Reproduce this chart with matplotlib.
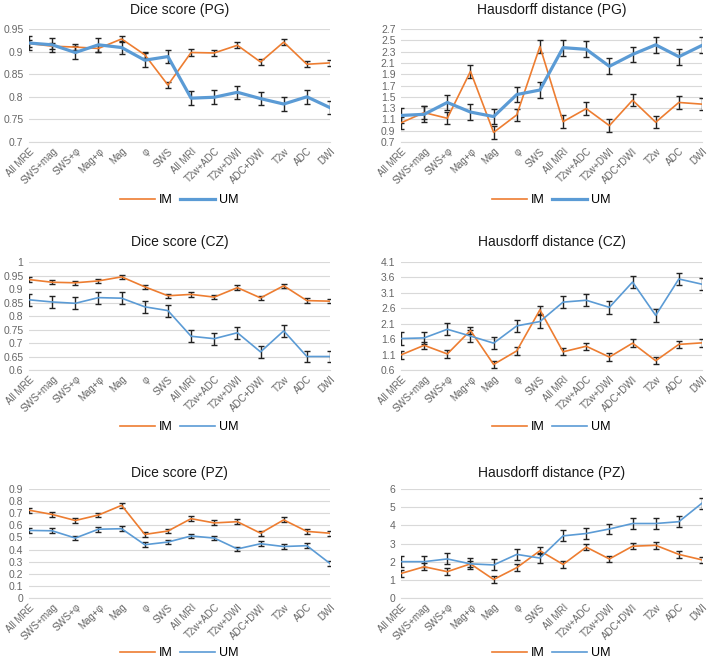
import matplotlib
matplotlib.use("Agg")
import matplotlib.pyplot as plt
from matplotlib.lines import Line2D
import numpy as np

plt.rcParams["font.family"] = ["Liberation Sans", "DejaVu Sans"]

categories = ["All MRE", "SWS+mag", "SWS+φ", "Mag+φ", "Mag", "φ", "SWS",
              "All MRI", "T2w+ADC", "T2w+DWI", "ADC+DWI", "T2w", "ADC", "DWI"]

# Dice score (PG)
dice_pg_im = [0.918, 0.912, 0.910, 0.907, 0.928, 0.893, 0.826, 0.898, 0.897, 0.914, 0.877, 0.921, 0.872, 0.875]
dice_pg_im_err = [0.007] * 14
dice_pg_um = [0.919, 0.915, 0.898, 0.915, 0.909, 0.881, 0.889, 0.797, 0.799, 0.810, 0.796, 0.784, 0.800, 0.776]
dice_pg_um_err = [0.015] * 14

# Hausdorff distance (PG)
hd_pg_im = [1.04, 1.22, 1.12, 1.95, 0.87, 1.18, 2.39, 1.06, 1.29, 0.99, 1.44, 1.05, 1.40, 1.37]
hd_pg_im_err = [0.11] * 14
hd_pg_um = [1.17, 1.19, 1.40, 1.23, 1.15, 1.54, 1.62, 2.37, 2.34, 2.04, 2.25, 2.42, 2.21, 2.41]
hd_pg_um_err = [0.14] * 14

# Dice score (CZ)
dice_cz_im = [0.935, 0.925, 0.923, 0.930, 0.945, 0.908, 0.875, 0.880, 0.870, 0.905, 0.867, 0.912, 0.857, 0.855]
dice_cz_im_err = [0.008] * 14
dice_cz_um = [0.860, 0.852, 0.847, 0.868, 0.866, 0.834, 0.820, 0.725, 0.716, 0.738, 0.667, 0.745, 0.650, 0.650]
dice_cz_um_err = [0.022] * 14

# Hausdorff distance (CZ)
hd_cz_im = [1.09, 1.40, 1.12, 1.88, 0.78, 1.22, 2.55, 1.19, 1.37, 1.02, 1.47, 0.90, 1.43, 1.48]
hd_cz_im_err = [0.12] * 14
hd_cz_um = [1.62, 1.64, 1.92, 1.70, 1.47, 2.03, 2.17, 2.80, 2.86, 2.63, 3.45, 2.37, 3.55, 3.38]
hd_cz_um_err = [0.2] * 14

# Dice score (PZ)
dice_pz_im = [0.725, 0.690, 0.640, 0.685, 0.765, 0.525, 0.553, 0.655, 0.620, 0.630, 0.535, 0.645, 0.550, 0.535]
dice_pz_im_err = [0.02] * 14
dice_pz_um = [0.558, 0.555, 0.495, 0.568, 0.572, 0.440, 0.462, 0.512, 0.495, 0.405, 0.448, 0.425, 0.432, 0.285]
dice_pz_um_err = [0.02] * 14

# Hausdorff distance (PZ)
hd_pz_im = [1.35, 1.72, 1.45, 1.88, 1.02, 1.67, 2.60, 1.85, 2.80, 2.15, 2.85, 2.90, 2.40, 2.10]
hd_pz_im_err = [0.18] * 14
hd_pz_um = [2.00, 2.00, 2.15, 1.88, 1.82, 2.40, 2.20, 3.42, 3.55, 3.80, 4.10, 4.10, 4.20, 5.22]
hd_pz_um_err = [0.3] * 14

ORANGE = "#ED7D31"
BLUE = "#5B9BD5"
GRAY = "#666666"

W, H = 708, 662
fig = plt.figure(figsize=(W / 100, H / 100), dpi=100)


def px_axes(x0, x1, y0, y1):
    return fig.add_axes([x0 / W, 1 - y1 / H, (x1 - x0) / W, (y1 - y0) / H])


paneles = [
    # title, im, im_err, um, um_err, ylim, step, fmt, x0, x1, y0, y1, title_y, legend_y, um_lw
    ("Dice score (PG)", dice_pg_im, dice_pg_im_err, dice_pg_um, dice_pg_um_err,
     (0.7, 0.95), 0.05, "{:g}", 29, 330, 29, 142, 10, 200, 2.3),
    ("Hausdorff distance (PG)", hd_pg_im, hd_pg_im_err, hd_pg_um, hd_pg_um_err,
     (0.7, 2.7), 0.2, "{:.1f}", 401, 702, 29, 142, 10, 200, 2.3),
    ("Dice score (CZ)", dice_cz_im, dice_cz_im_err, dice_cz_um, dice_cz_um_err,
     (0.6, 1.0), 0.05, "{:g}", 29, 330, 262, 370, 242, 427, 1.2),
    ("Hausdorff distance (CZ)", hd_cz_im, hd_cz_im_err, hd_cz_um, hd_cz_um_err,
     (0.6, 4.1), 0.5, "{:.1f}", 401, 702, 262, 370, 242, 427, 1.2),
    ("Dice score (PZ)", dice_pz_im, dice_pz_im_err, dice_pz_um, dice_pz_um_err,
     (0.0, 0.9), 0.1, "{:g}", 29, 330, 489, 598, 473, 653, 1.2),
    ("Hausdorff distance (PZ)", hd_pz_im, hd_pz_im_err, hd_pz_um, hd_pz_um_err,
     (0.0, 6.0), 1.0, "{:g}", 401, 702, 489, 598, 473, 653, 1.2),
]

x = np.arange(len(categories))

for (titulo, im, im_err, um, um_err, ylim, step, fmt,
     x0, x1, y0, y1, ty, ly, um_lw) in paneles:
    ax = px_axes(x0, x1, y0, y1)
    ax.errorbar(x, im, yerr=im_err, color=ORANGE, lw=1.2, ecolor="#222222",
                elinewidth=1.0, capsize=2, capthick=1.0, zorder=3)
    ax.errorbar(x, um, yerr=um_err, color=BLUE, lw=um_lw, ecolor="#222222",
                elinewidth=1.0, capsize=2, capthick=1.0, zorder=3)

    ticks = np.arange(ylim[0], ylim[1] + step / 2, step)
    ax.set_yticks(ticks)
    ax.set_yticklabels([fmt.format(round(t, 2)) for t in ticks])
    ax.set_ylim(ylim[0], ylim[1] + 1e-9)
    ax.set_xlim(0, len(categories) - 1)
    ax.set_xticks(x)
    ax.set_xticklabels(categories, rotation=45, ha="right", rotation_mode="anchor")

    ax.grid(axis="y", color="#d9d9d9", lw=0.8)
    ax.set_axisbelow(True)
    for s in ["top", "right", "left"]:
        ax.spines[s].set_visible(False)
    ax.spines["bottom"].set_color("#d9d9d9")
    ax.tick_params(axis="both", length=0, colors=GRAY, labelsize=7)
    ax.tick_params(axis="y", labelsize=7.5, pad=4)
    ax.tick_params(axis="x", pad=3)
    ax.set_facecolor("none")

    cx = (x0 + x1) / 2 / W
    fig.text(cx, 1 - ty / H, titulo, ha="center", va="center", fontsize=10, color="#1a1a1a")

    handles = [Line2D([], [], color=ORANGE, lw=1.2), Line2D([], [], color=BLUE, lw=um_lw)]
    fig.legend(handles, ["IM", "UM"], loc="center", bbox_to_anchor=(cx, 1 - ly / H),
               ncol=2, frameon=False, fontsize=9, handlelength=2.8,
               columnspacing=0.6, handletextpad=0.3)

fig.savefig("out.png", dpi=100)
